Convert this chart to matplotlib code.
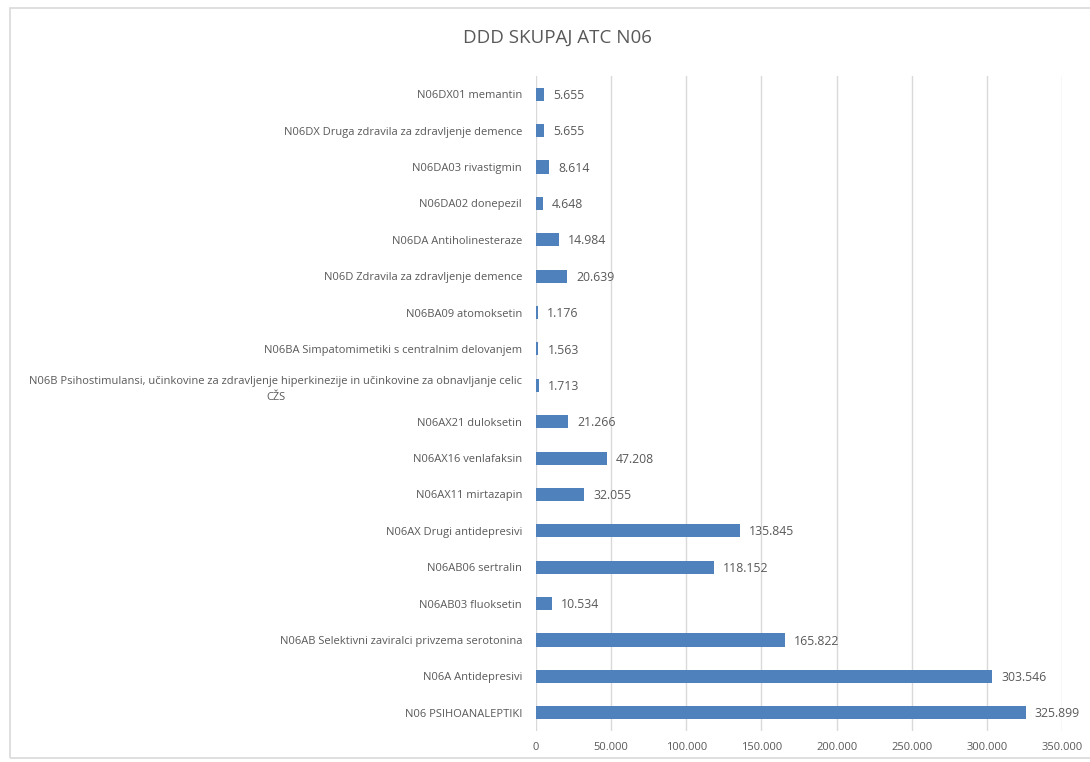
import matplotlib
matplotlib.use('Agg')
import matplotlib.pyplot as plt
from matplotlib.patches import Rectangle

# categories listed bottom to top
categories = [
    'N06 PSIHOANALEPTIKI',
    'N06A Antidepresivi',
    'N06AB Selektivni zaviralci privzema serotonina',
    'N06AB03 fluoksetin',
    'N06AB06 sertralin',
    'N06AX Drugi antidepresivi',
    'N06AX11 mirtazapin',
    'N06AX16 venlafaksin',
    'N06AX21 duloksetin',
    'N06B Psihostimulansi, učinkovine za zdravljenje hiperkinezije in učinkovine za obnavljanje celic\nCŽS',
    'N06BA Simpatomimetiki s centralnim delovanjem',
    'N06BA09 atomoksetin',
    'N06D Zdravila za zdravljenje demence',
    'N06DA Antiholinesteraze',
    'N06DA02 donepezil',
    'N06DA03 rivastigmin',
    'N06DX Druga zdravila za zdravljenje demence',
    'N06DX01 memantin',
]
values = [325899, 303546, 165822, 10534, 118152, 135845, 32055, 47208, 21266,
          1713, 1563, 1176, 20639, 14984, 4648, 8614, 5655, 5655]
xticks = [0, 50000, 100000, 150000, 200000, 250000, 300000, 350000]

def fmt(v):
    return '{:,}'.format(v).replace(',', '.')

plt.rcParams['font.family'] = ['Open Sans', 'DejaVu Sans']
txt = '#595959'

fig = plt.figure(figsize=(10.9, 7.62), dpi=100)
fig.patches.append(Rectangle((10/1090, 4/762), 1.0, 750/762, transform=fig.transFigure,
                             fill=False, edgecolor='#D9D9D9', linewidth=1.2))
ax = fig.add_axes([536/1090, 1 - 731/762, (1062-536)/1090, (731-76)/762])

y = range(len(categories))
ax.barh(y, values, height=0.36, color='#4F81BD', zorder=3)
for i, v in enumerate(values):
    ax.text(v + 6000, i - 0.03, fmt(v), va='center', ha='left', fontsize=8.8, color=txt)

ax.set_xlim(0, 350000)
ax.set_ylim(-0.5, len(categories) - 0.5)
ax.set_xticks(xticks)
ax.set_xticklabels([fmt(t) for t in xticks], fontsize=8, color=txt)
ax.set_yticks(list(y))
ax.set_yticklabels(categories, fontsize=8, color=txt, multialignment='center',
                   linespacing=1.6)
ax.tick_params(length=0, pad=10)
ax.tick_params(axis='x', pad=8)
ax.grid(axis='x', color='#D9D9D9', linewidth=1, zorder=0)
for s in ax.spines.values():
    s.set_visible(False)

fig.text(557/1090, 1 - 38/762, 'DDD SKUPAJ ATC N06', ha='center', va='center',
         fontsize=13.5, color=txt)

fig.savefig('out.png', dpi=100)
